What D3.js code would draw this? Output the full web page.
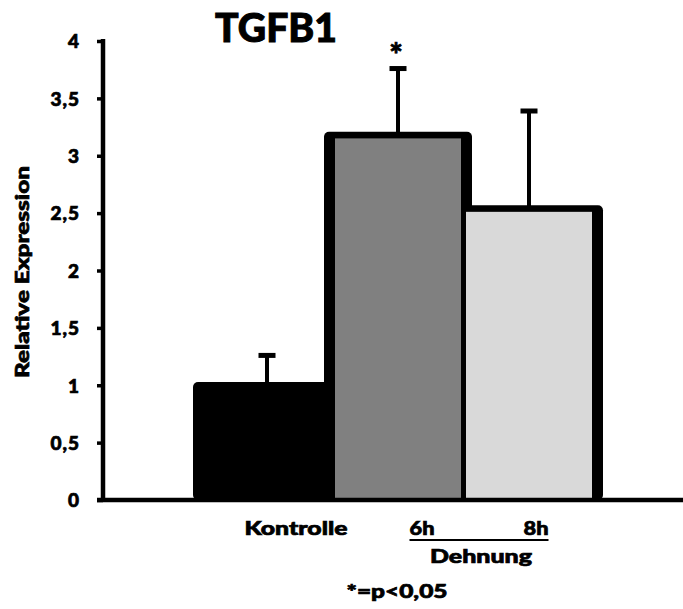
<!DOCTYPE html>
<html>
<head>
<meta charset="utf-8">
<script src="https://cdn.jsdelivr.net/npm/d3@7"></script>
<style>
  html, body { margin: 0; padding: 0; background: #fff; }
  svg { display: block; }
  text { font-family: Lato, "Open Sans", sans-serif; font-weight: 900; fill: #000;
         stroke: #000; stroke-width: 0.7px; }
</style>
</head>
<body>
<svg id="chart" width="683" height="609"></svg>
<script>
// TGFB1 relative expression: control vs. stretch (6h, 8h)
const categories = ["Kontrolle", "6h", "8h"];
const values = [1.0, 3.18, 2.54];
const errors = [0.26, 0.58, 0.85];
const fills = ["#000000", "#808080", "#d9d9d9"];
const yTicks = [0, 0.5, 1, 1.5, 2, 2.5, 3, 3.5, 4];
const yTickLabels = ["0", "0,5", "1", "1,5", "2", "2,5", "3", "3,5", "4"];
const significant = [false, true, false];

const svg = d3.select("#chart");

const y = d3.scaleLinear().domain([0, 4]).range([500, 41]);
const x = d3.scaleBand().domain(categories).range([201.5, 594.5]).padding(0);

const axisX = 103;
const sideStroke = 11, topStroke = 6.6;
const outerW = x.step() + 17;

// bar outlines first, so each fill sits over the neighbour's border
const gOut = svg.append("g");
gOut.selectAll("rect").data(categories).join("rect")
  .attr("x", d => x(d) + x.bandwidth() / 2 - outerW / 2)
  .attr("y", (d, i) => y(values[i]) - topStroke / 2)
  .attr("width", outerW)
  .attr("height", (d, i) => y(0) - y(values[i]) + topStroke / 2)
  .attr("rx", 5)
  .attr("fill", "#000");

const gFill = svg.append("g");
gFill.selectAll("rect").data(categories).join("rect")
  .attr("x", d => x(d) + x.bandwidth() / 2 - outerW / 2 + sideStroke)
  .attr("y", (d, i) => y(values[i]) + topStroke / 2)
  .attr("width", outerW - 2 * sideStroke)
  .attr("height", (d, i) => y(0) - y(values[i]) - topStroke / 2)
  .attr("fill", (d, i) => fills[i]);

// error bars (upper only)
const gErr = svg.append("g");
categories.forEach((c, i) => {
  const cx = x(c) + x.bandwidth() / 2;
  const top = y(values[i] + errors[i]);
  gErr.append("rect").attr("x", cx - 2).attr("width", 4)
    .attr("y", top).attr("height", y(values[i]) - top).attr("fill", "#000");
  gErr.append("rect").attr("x", cx - 8.5).attr("width", 17)
    .attr("y", top - 2.5).attr("height", 5).attr("fill", "#000");
  if (significant[i]) {
    svg.append("text").attr("x", cx - 2).attr("y", 66)
      .attr("text-anchor", "middle").attr("font-size", 32).text("*");
  }
});

// axes
const yAxis = d3.axisLeft(y).tickValues(yTicks).tickSize(6)
  .tickFormat((d, i) => yTickLabels[i]);
const gy = svg.append("g").attr("transform", `translate(${axisX},0)`).call(yAxis);
gy.select(".domain").remove();
gy.selectAll(".tick line").attr("stroke", "#000").attr("stroke-width", 3.5);
gy.selectAll(".tick text").attr("x", -23).attr("dy", "0.36em")
  .attr("font-size", 19).attr("font-family", "Lato, sans-serif").attr("font-weight", 900)
  .attr("letter-spacing", 1).attr("stroke", "#000").attr("stroke-width", 0.9);
svg.append("line").attr("x1", axisX).attr("x2", axisX)
  .attr("y1", y(4) - 2).attr("y2", y(0))
  .attr("stroke", "#000").attr("stroke-width", 4.5);
svg.append("line").attr("x1", 97).attr("x2", 683)
  .attr("y1", y(0)).attr("y2", y(0))
  .attr("stroke", "#000").attr("stroke-width", 4.5);

// title and axis title
svg.append("text").attr("x", 276).attr("y", 42).attr("text-anchor", "middle")
  .attr("font-size", 40).attr("textLength", 122).attr("lengthAdjust", "spacingAndGlyphs")
  .style("stroke-width", "1px")
  .text("TGFB1");
svg.append("text").attr("transform", "translate(29,272) rotate(-90)")
  .attr("text-anchor", "middle").attr("font-size", 18)
  .attr("textLength", 212).attr("lengthAdjust", "spacingAndGlyphs")
  .text("Relative Expression");

// category labels
const labelShift = [29, 24, 7];
const labelWidth = [103, 25, 25];
categories.forEach((c, i) => {
  svg.append("text").attr("x", x(c) + x.bandwidth() / 2 + labelShift[i]).attr("y", 535)
    .attr("text-anchor", "middle").attr("font-size", 19)
    .attr("textLength", labelWidth[i]).attr("lengthAdjust", "spacingAndGlyphs")
    .text(c);
});
// bracket line grouping the stretch conditions
const c6 = x("6h") + x.bandwidth() / 2 + labelShift[1];
const c8 = x("8h") + x.bandwidth() / 2 + labelShift[2];
svg.append("line").attr("x1", c6 - 12.5).attr("x2", c8 + 12.5)
  .attr("y1", 540).attr("y2", 540).attr("stroke", "#000").attr("stroke-width", 2);
svg.append("text").attr("x", (c6 + c8) / 2 + 2).attr("y", 563).attr("text-anchor", "middle")
  .attr("font-size", 19).attr("textLength", 102).attr("lengthAdjust", "spacingAndGlyphs")
  .text("Dehnung");
svg.append("text").attr("x", 397).attr("y", 598).attr("text-anchor", "middle")
  .attr("font-size", 19).attr("textLength", 101).attr("lengthAdjust", "spacingAndGlyphs")
  .text("*=p<0,05");
</script>
</body>
</html>
